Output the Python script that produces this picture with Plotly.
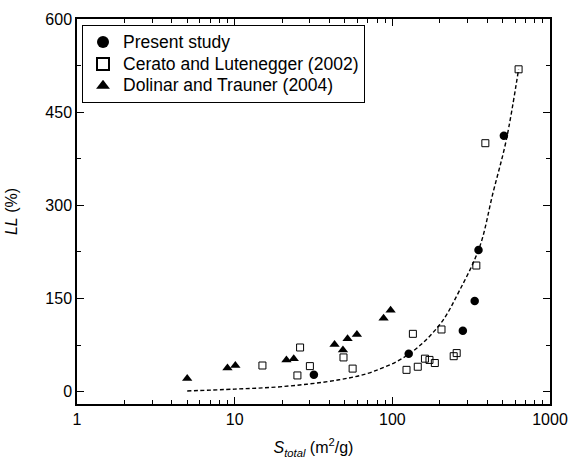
import plotly.graph_objects as go

# Present study
present_S = [31.8, 127, 280, 333, 352, 510]
present_LL = [27, 61, 98, 146, 228, 412]

# Cerato and Lutenegger (2002)
cerato_S = [15, 25, 26, 30, 49, 56, 123, 135, 145, 161, 172, 186, 205, 245, 256, 341, 389, 632]
cerato_LL = [42, 26, 71, 41, 55, 37, 35, 93, 40, 53, 51, 46, 100, 57, 62, 203, 400, 519]

# Dolinar and Trauner (2004)
dolinar_S = [5.0, 9.0, 10.1, 21.3, 23.7, 43, 48.6, 52, 59.6, 88, 97.5]
dolinar_LL = [21, 38, 42, 51, 53, 76, 67, 85, 92, 118, 131]

# Trend line
trend_S = [5, 10, 20, 46, 75, 127, 200, 267, 358, 434, 528, 632]
trend_LL = [1, 4, 8, 19, 32, 60, 108, 163, 233, 319, 405, 519]

# Tick labels
x_ticks = [1, 10, 100, 1000]
x_ticklabels = ["1", "10", "100", "1000"]
y_ticks = [0, 150, 300, 450, 600]
y_minor_ticks = [75, 225, 375, 525]

font = "Liberation Sans, Arial, sans-serif"


def leg(t):
    return '<span style="font-size:17.5px">' + t + '</span>'


fig = go.Figure()
fig.add_trace(go.Scatter(x=trend_S, y=trend_LL, mode="lines",
                         line=dict(color="black", width=1.4, dash="4px,2.5px", shape="spline"),
                         showlegend=False))
fig.add_trace(go.Scatter(x=present_S, y=present_LL, mode="markers", name=leg("Present study"),
                         marker=dict(symbol="circle", size=8.5, color="black")))
fig.add_trace(go.Scatter(x=cerato_S, y=cerato_LL, mode="markers", name=leg("Cerato and Lutenegger (2002)"),
                         marker=dict(symbol="square-open", size=7, color="black", line=dict(width=1))))
fig.add_trace(go.Scatter(x=dolinar_S, y=dolinar_LL, mode="markers", name=leg("Dolinar and Trauner (2004)"),
                         marker=dict(symbol="triangle-up", size=9, color="black")))

tickfont = dict(family=font, size=16, color="black")

fig.update_layout(
    template="none",
    width=580, height=460,
    margin=dict(l=77, r=30, t=19, b=56),
    paper_bgcolor="white", plot_bgcolor="white",
    font=dict(family=font, size=16, color="black"),
    xaxis=dict(type="log", range=[0, 3], tickmode="array", tickvals=x_ticks, ticktext=x_ticklabels,
               showline=True, linecolor="black", linewidth=1.5, mirror="ticks",
               ticks="inside", ticklen=7, tickwidth=1.3, tickcolor="black",
               showgrid=False, zeroline=False, tickfont=tickfont,
               minor=dict(ticks="inside", ticklen=4, tickcolor="black", tickwidth=1.1,
                          showgrid=False, dtick="D1"),
               title=dict(text="<i>S</i><sub><i>total</i></sub> (m<sup>2</sup>/g)",
                          font=dict(family=font, size=16, color="black"), standoff=15)),
    yaxis=dict(range=[-20, 600], tickmode="array", tickvals=y_ticks,
               showline=True, linecolor="black", linewidth=1.5, mirror="ticks",
               ticks="inside", ticklen=7, tickwidth=1.3, tickcolor="black",
               showgrid=False, zeroline=False, tickfont=tickfont,
               minor=dict(ticks="inside", ticklen=4, tickcolor="black", tickwidth=1.1,
                          showgrid=False, tickmode="array", tickvals=y_minor_ticks),
               title=dict(text="<i>LL</i> (%)", font=dict(family=font, size=16, color="black"), standoff=24)),
    legend=dict(x=0.0106, y=0.984, xanchor="left", yanchor="top",
                bordercolor="black", borderwidth=1, bgcolor="white",
                font=dict(family=font, size=14.5, color="black"),
                itemsizing="constant", tracegroupgap=0),
)

fig.write_html("out.html", config={"displayModeBar": False},
               post_script="document.body.style.margin='0';")
